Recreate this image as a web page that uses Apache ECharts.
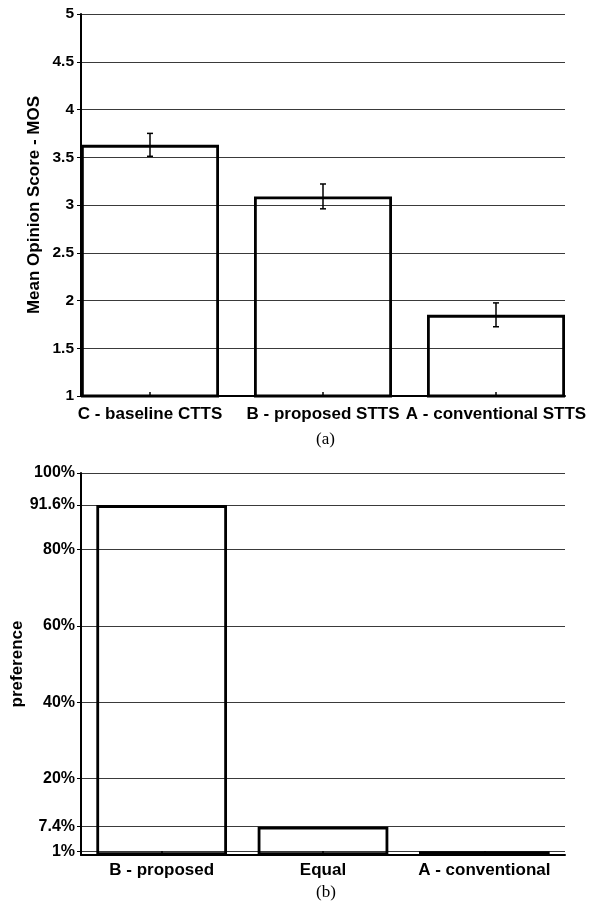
<!DOCTYPE html>
<html>
<head>
<meta charset="utf-8">
<script src="https://cdn.jsdelivr.net/npm/echarts@6/dist/echarts.min.js"></script>
<style>
  html, body { margin: 0; padding: 0; background: #fff; }
  #chart { width: 589px; height: 906px; }
</style>
</head>
<body>
<div id="chart"></div>
<script>
// (a) mean opinion score
var mosCategories = ['C - baseline CTTS', 'B - proposed STTS', 'A - conventional STTS'];
var mosMean = [3.63, 3.09, 1.85];
var mosErr = [0.12, 0.13, 0.125];

// (b) preference test
var prefCategories = ['B - proposed', 'Equal', 'A - conventional'];
var prefValues = [91.6, 7.4, 1];
var prefTicks = [1, 7.4, 20, 40, 60, 80, 91.6, 100];

var chart = echarts.init(document.getElementById('chart'));

var FONT = 'Liberation Sans';
var labelStyle = { color: '#000', fontFamily: FONT, fontWeight: 'bold', fontSize: 15.5 };
var catStyle = { color: '#000', fontFamily: FONT, fontWeight: 'bold', fontSize: 17 };
var gridLine = { show: true, lineStyle: { color: '#3a3a3a', width: 1 } };
var barStyle = { color: 'rgba(0,0,0,0)', borderColor: '#000', borderWidth: 2.8 };
var capStyle = { fontFamily: 'Liberation Serif', fontWeight: 'normal', fontSize: 17, color: '#000' };

var errData = [];
for (var i = 0; i < mosMean.length; i++) {
    errData.push([i, mosMean[i] - mosErr[i], mosMean[i] + mosErr[i]]);
}

var option = {
    animation: false,
    backgroundColor: '#fff',
    title: [
        { text: '(a)', left: 311, top: 426, textStyle: capStyle },
        { text: '(b)', left: 311, top: 879, textStyle: capStyle }
    ],
    grid: [
        // frame of (a)
        { left: 81, right: 24, top: 14, bottom: 510, outerBoundsMode: 'none' },
        // bars of (a): wider band so the outer bars touch the frame
        { left: 63.5, right: 6.5, top: 14, bottom: 510, outerBoundsMode: 'none' },
        // (b)
        { left: 81, right: 24, top: 473, bottom: 51, outerBoundsMode: 'none' }
    ],
    xAxis: [
        { gridIndex: 0, type: 'value', min: 0, max: 1,
          axisLine: { show: true, lineStyle: { color: '#000', width: 2 } },
          axisTick: { show: false }, axisLabel: { show: false }, splitLine: { show: false } },
        { gridIndex: 1, type: 'category', data: mosCategories,
          axisLine: { show: false },
          axisTick: { show: true, inside: true, length: 4, alignWithLabel: true, lineStyle: { color: '#000', width: 1.5 } },
          axisLabel: Object.assign({ margin: 10, interval: 0 }, catStyle) },
        { gridIndex: 2, type: 'category', data: prefCategories,
          axisLine: { show: true, lineStyle: { color: '#000', width: 2 } },
          axisTick: { show: true, inside: true, length: 4, alignWithLabel: true, lineStyle: { color: '#000', width: 1.5 } },
          axisLabel: Object.assign({ margin: 7, interval: 0 }, catStyle) }
    ],
    yAxis: [
        { gridIndex: 0, type: 'value', min: 1, max: 5, interval: 0.5,
          name: 'Mean Opinion Score - MOS', nameLocation: 'middle', nameGap: 38, nameMoveOverlap: false,
          nameTextStyle: { color: '#000', fontFamily: FONT, fontWeight: 'bold', fontSize: 17 },
          axisLine: { show: true, lineStyle: { color: '#000', width: 2 } },
          axisTick: { show: true, length: 4, lineStyle: { color: '#000' } },
          axisLabel: Object.assign({ margin: 7 }, labelStyle),
          splitLine: gridLine },
        { gridIndex: 1, type: 'value', min: 1, max: 5, show: false, splitLine: { show: false } },
        { gridIndex: 2, type: 'value', min: 0, max: 100,
          name: 'preference', nameLocation: 'middle', nameGap: 55, nameMoveOverlap: false,
          nameTextStyle: { color: '#000', fontFamily: FONT, fontWeight: 'bold', fontSize: 17 },
          axisLine: { show: true, lineStyle: { color: '#000', width: 2 } },
          axisTick: { show: true, length: 4, customValues: prefTicks, lineStyle: { color: '#000' } },
          axisLabel: Object.assign({ margin: 6, customValues: prefTicks,
              formatter: function (v) { return v + '%'; } }, labelStyle, { fontSize: 16 }),
          splitLine: gridLine }
    ],
    series: [
        { type: 'bar', xAxisIndex: 1, yAxisIndex: 1, data: mosMean, barWidth: 138,
          clip: true, itemStyle: barStyle },
        { type: 'custom', xAxisIndex: 1, yAxisIndex: 1, data: errData,
          renderItem: function (params, api) {
              var lo = api.coord([api.value(0), api.value(1)]);
              var hi = api.coord([api.value(0), api.value(2)]);
              var w = 3;
              var st = { stroke: '#000', lineWidth: 1.5 };
              return { type: 'group', children: [
                  { type: 'line', shape: { x1: lo[0], y1: lo[1], x2: hi[0], y2: hi[1] }, style: st },
                  { type: 'line', shape: { x1: hi[0] - w, y1: hi[1], x2: hi[0] + w, y2: hi[1] }, style: st },
                  { type: 'line', shape: { x1: lo[0] - w, y1: lo[1], x2: lo[0] + w, y2: lo[1] }, style: st }
              ] };
          } },
        { type: 'bar', xAxisIndex: 2, yAxisIndex: 2, data: prefValues, barCategoryGap: '19%',
          itemStyle: barStyle }
    ]
};

chart.setOption(option);
</script>
</body>
</html>
